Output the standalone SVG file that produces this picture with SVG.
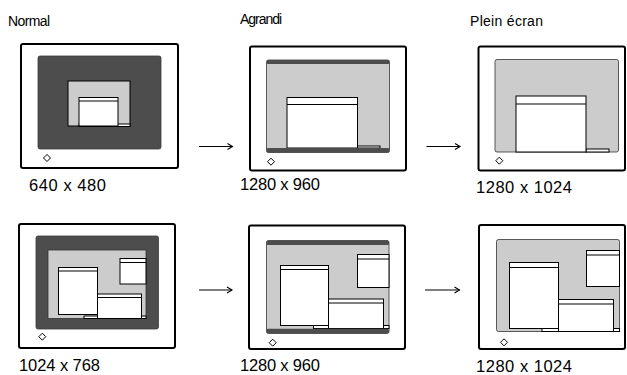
<svg xmlns="http://www.w3.org/2000/svg" width="627" height="375" viewBox="0 0 627 375">
<defs>
<marker id="ah" markerWidth="8" markerHeight="8" refX="6" refY="4" orient="auto" markerUnits="userSpaceOnUse">
<path d="M1,1 L6,4 L1,7" fill="none" stroke="#000" stroke-width="1.1"/>
</marker>
</defs>
<style>
.frame{fill:#fff;stroke:#000;stroke-width:2}
.dark{fill:#4d4d4d;stroke:#3a3a3a;stroke-width:0.8}
.grey{fill:#cccccc;stroke:#333;stroke-width:0.8}
.gwin{fill:#cccccc;stroke:#000;stroke-width:1}
.win{fill:#fff;stroke:#000;stroke-width:1}
.band{fill:#4d4d4d}
.tl{stroke:#000;stroke-width:1}
.dia{fill:#fff;stroke:#000;stroke-width:1}
.lbl{font-family:"Liberation Sans",Arial,sans-serif;font-size:16.5px;fill:#000}
.ttl{font-family:"Liberation Sans",Arial,sans-serif;font-size:14px;fill:#000}
.arr{stroke:#000;stroke-width:1.1;fill:none}
</style>
<rect width="627" height="375" fill="#fff"/>

<text class="ttl" x="8" y="26" textLength="42">Normal</text>
<text class="ttl" x="240" y="24" textLength="42">Agrandi</text>
<text class="ttl" x="470" y="26" textLength="73">Plein écran</text>

<g id="m11">
<rect class="frame" x="21" y="44" width="157" height="124" rx="2"/>
<rect class="dark" x="38" y="56" width="123" height="93" rx="2"/>
<rect class="gwin" x="68" y="81" width="62" height="45"/>
<rect class="win" x="79" y="124" width="51" height="2.5"/>
<rect class="win" x="79" y="97.5" width="39" height="28.5"/>
<line class="tl" x1="79" y1="101" x2="118" y2="101"/>
<path class="dia" d="M47,154.5 L50.5,158 L47,161.5 L43.5,158 Z"/>
<text class="lbl" x="29" y="191" textLength="77">640 x 480</text>
</g>

<g id="m12">
<rect class="frame" x="250" y="46.5" width="156" height="124" rx="2"/>
<rect class="grey" x="266.5" y="60" width="123" height="92.5" rx="2"/>
<rect class="band" x="266.5" y="60" width="123" height="4" rx="1.5"/>
<rect class="win" x="357.5" y="146" width="22.5" height="2"/>
<rect class="win" x="287" y="97.5" width="70.5" height="50.5"/>
<line class="tl" x1="287" y1="104.5" x2="357.5" y2="104.5"/>
<rect class="band" x="266.5" y="148" width="123" height="4.5" rx="1.5"/>
<path class="dia" d="M271,158.2 L274.5,161.7 L271,165.2 L267.5,161.7 Z"/>
<text class="lbl" x="240" y="189.5" textLength="80">1280 x 960</text>
</g>

<g id="m13">
<rect class="frame" x="478.5" y="46.5" width="146.5" height="124" rx="2"/>
<rect class="grey" x="495" y="59.5" width="123.5" height="92.5" rx="2"/>
<rect class="win" x="586" y="149" width="23" height="3"/>
<rect class="win" x="516" y="96" width="70" height="56"/>
<line class="tl" x1="516" y1="104" x2="586" y2="104"/>
<path class="dia" d="M499.3,157.2 L502.8,160.7 L499.3,164.2 L495.8,160.7 Z"/>
<text class="lbl" x="476" y="192.5" textLength="96">1280 x 1024</text>
</g>

<g id="m21">
<rect class="frame" x="19" y="224" width="156" height="124" rx="2"/>
<rect class="dark" x="36" y="236" width="122.5" height="93" rx="2"/>
<rect class="grey" x="48" y="250" width="98" height="68.5"/>
<rect class="win" x="84" y="316" width="62" height="2.5"/>
<rect class="win" x="97.5" y="294" width="44" height="24.5"/>
<line class="tl" x1="97.5" y1="297.5" x2="141.5" y2="297.5"/>
<rect class="win" x="120" y="258.5" width="26" height="25.5"/>
<line class="tl" x1="120" y1="262.5" x2="146" y2="262.5"/>
<rect class="win" x="58.5" y="267.5" width="39" height="47"/>
<line class="tl" x1="58.5" y1="271" x2="97.5" y2="271"/>
<path class="dia" d="M42.3,333.2 L45.8,336.7 L42.3,340.2 L38.8,336.7 Z"/>
<text class="lbl" x="19" y="371" textLength="81">1024 x 768</text>
</g>

<g id="m22">
<rect class="frame" x="249" y="225.5" width="156" height="123.5" rx="2"/>
<rect class="grey" x="266.5" y="240.5" width="122.5" height="93" rx="2"/>
<rect class="band" x="266.5" y="240.5" width="122.5" height="4.5" rx="1.5"/>
<rect class="win" x="313.5" y="325.5" width="75.5" height="3"/>
<rect class="win" x="328.5" y="299" width="55" height="29.5"/>
<line class="tl" x1="328.5" y1="303" x2="383.5" y2="303"/>
<rect class="win" x="357.5" y="254.5" width="31.5" height="33"/>
<line class="tl" x1="357.5" y1="259" x2="389" y2="259"/>
<rect class="win" x="280.5" y="265.5" width="48" height="60"/>
<line class="tl" x1="280.5" y1="269.5" x2="328.5" y2="269.5"/>
<rect class="band" x="266.5" y="328.7" width="122.5" height="4.6" rx="1.5"/>
<path class="dia" d="M272.7,339.2 L276.2,342.7 L272.7,346.2 L269.2,342.7 Z"/>
<text class="lbl" x="240" y="370.5" textLength="80">1280 x 960</text>
</g>

<g id="m23">
<rect class="frame" x="479" y="225" width="146" height="124" rx="2"/>
<rect class="grey" x="496.5" y="239.5" width="123" height="92" rx="2"/>
<rect class="win" x="542" y="328.5" width="77.5" height="3"/>
<rect class="win" x="558.5" y="299.5" width="55" height="32"/>
<line class="tl" x1="558.5" y1="304" x2="613.5" y2="304"/>
<rect class="win" x="586.5" y="250.5" width="33" height="36"/>
<line class="tl" x1="586.5" y1="255" x2="619.5" y2="255"/>
<rect class="win" x="509.5" y="262.5" width="49" height="66"/>
<line class="tl" x1="509.5" y1="267.5" x2="558.5" y2="267.5"/>
<path class="dia" d="M504,338.8 L507.5,342.3 L504,345.8 L500.5,342.3 Z"/>
<text class="lbl" x="476" y="372" textLength="96">1280 x 1024</text>
</g>

<g id="connectors">
<line class="arr" x1="199" y1="146.5" x2="232.5" y2="146.5" marker-end="url(#ah)"/>
<line class="arr" x1="426.5" y1="146.5" x2="460" y2="146.5" marker-end="url(#ah)"/>
<line class="arr" x1="199" y1="290" x2="232" y2="290" marker-end="url(#ah)"/>
<line class="arr" x1="425" y1="290" x2="459.5" y2="290" marker-end="url(#ah)"/>
</g>
</svg>
